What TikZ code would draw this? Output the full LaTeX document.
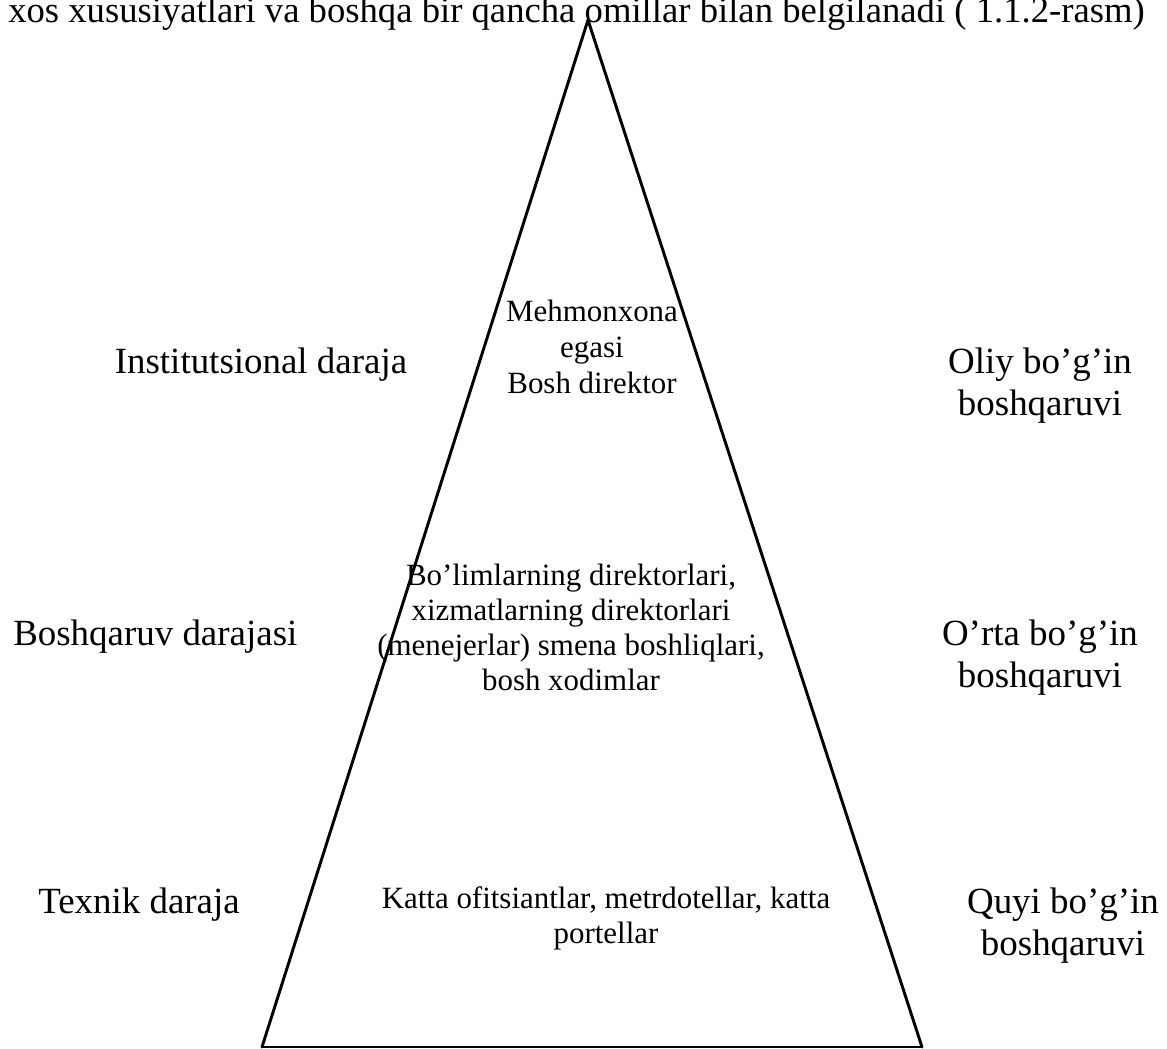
\documentclass[tikz,border=0pt]{standalone}
\usepackage{fontspec}
\setmainfont{Liberation Serif}
\begin{document}
\begin{tikzpicture}[x=0.75pt,y=-0.75pt,
  big/.style={inner sep=0pt, anchor=base, font=\fontsize{27.7}{31}\selectfont},
  bigl/.style={big, anchor=base west},
  inner/.style={inner sep=0pt, anchor=base, font=\fontsize{23.2}{27}\selectfont},
  side/.style={line width=2.2pt, line cap=round},
  base/.style={line width=1.1pt}]
\useasboundingbox (0,0) rectangle (1167,1049);
% caption line (clipped at top)
\node[bigl, font=\fontsize{27.5}{31}\selectfont] (cap) at (8,23) {xos xususiyatlari va boshqa bir qancha omillar bilan belgilanadi ( 1.1.2-rasm)};
% pyramid
\coordinate (apex) at (588,20);
\coordinate (bl) at (262,1047);
\coordinate (br) at (922,1047);
\draw[side] (bl) -- (apex) -- (br);
\draw[base] (bl) -- (br);
% inner texts
\node[inner] (t1) at (592,321) {Mehmonxona};
\node[inner] (t2) at (592,357) {egasi};
\node[inner] (t3) at (592,393) {Bosh direktor};
\node[inner] (m1) at (571,585) {Bo’limlarning direktorlari,};
\node[inner] (m2) at (571,620) {xizmatlarning direktorlari};
\node[inner] (m3) at (571,655) {(menejerlar) smena boshliqlari,};
\node[inner] (m4) at (571,690) {bosh xodimlar};
\node[inner] (b1) at (606,908) {Katta ofitsiantlar, metrdotellar, katta};
\node[inner] (b2) at (606,943) {portellar};
% left labels
\node[big] (l1) at (261,373) {Institutsional daraja};
\node[bigl] (l2) at (13,645) {Boshqaruv darajasi};
\node[bigl] (l3) at (38,913) {Texnik daraja};
% right labels
\node[big] (r1a) at (1040,373) {Oliy bo’g’in};
\node[big] (r1b) at (1040,415) {boshqaruvi};
\node[big] (r2a) at (1040,645) {O’rta bo’g’in};
\node[big] (r2b) at (1040,687) {boshqaruvi};
\node[big] (r3a) at (1063,913) {Quyi bo’g’in};
\node[big] (r3b) at (1063,955) {boshqaruvi};
\end{tikzpicture}
\end{document}
